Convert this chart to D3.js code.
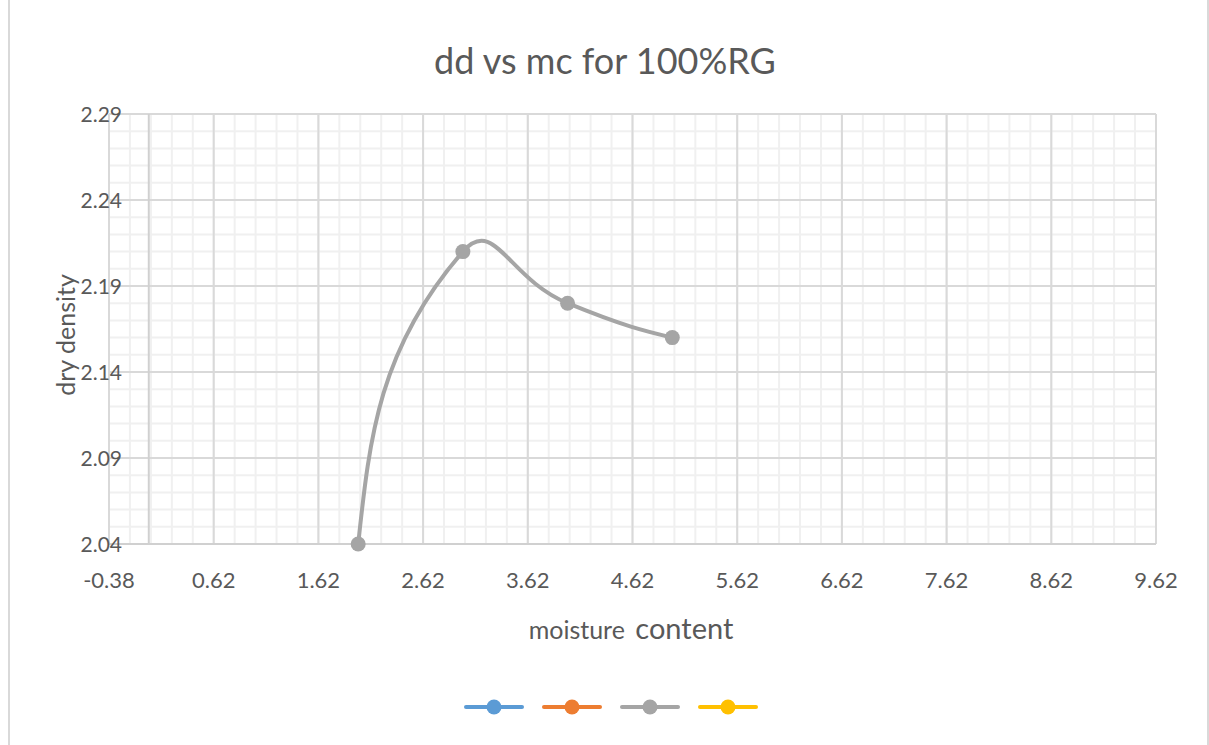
<!DOCTYPE html>
<meta charset="utf-8">
<style>
body { margin: 0; background: #fff; }
text { font-family: Lato, "Open Sans", sans-serif; fill: #595959; }
.minor { stroke: #f0f0f0; stroke-width: 2px; }
.major { stroke: #d9d9d9; stroke-width: 2px; }
.axisline { stroke: #d0d0d0; stroke-width: 2px; }
</style>
<body>
<script src="https://cdn.jsdelivr.net/npm/d3@7/dist/d3.min.js"></script>
<script>
    const width = 1209;
    const height = 745;

    // data
    const moisture = [2.0, 3.0, 4.0, 5.0];
    const dryDensity = [2.04, 2.21, 2.18, 2.16];

    const xTickLabels = ["-0.38", "0.62", "1.62", "2.62", "3.62", "4.62", "5.62", "6.62", "7.62", "8.62", "9.62"];
    const yTickLabels = ["2.04", "2.09", "2.14", "2.19", "2.24", "2.29"];
    const seriesColors = ["#5B9BD5", "#ED7D31", "#A5A5A5", "#FFC000"];

    const xMin = -0.38, xMax = 9.62;
    const yMin = 2.04, yMax = 2.29;

    const x = d3.scaleLinear().domain([xMin, xMax]).range([109, 1156]);
    const y = d3.scaleLinear().domain([yMin, yMax]).range([544, 114]);

    const svg = d3.select("body").append("svg")
        .attr("width", width)
        .attr("height", height);

    svg.append("rect")
        .attr("x", 9).attr("y", -5)
        .attr("width", 1199).attr("height", height + 10)
        .attr("fill", "#fff")
        .attr("stroke", "#d9d9d9")
        .attr("stroke-width", 2);

    // gridlines
    const xMinor = d3.range(0, 51).map(i => +(xMin + i * 0.2).toFixed(2));
    const yMinor = d3.range(0, 26).map(i => +(yMin + i * 0.01).toFixed(2));
    const xMajor = xTickLabels.map(Number);
    const yMajor = yTickLabels.map(Number);

    const grid = svg.append("g");
    grid.selectAll(".vminor").data(xMinor).enter().append("line")
        .attr("class", "minor")
        .attr("x1", d => x(d)).attr("x2", d => x(d))
        .attr("y1", y(yMin)).attr("y2", y(yMax));
    grid.selectAll(".hminor").data(yMinor).enter().append("line")
        .attr("class", "minor")
        .attr("x1", x(xMin)).attr("x2", x(xMax))
        .attr("y1", d => y(d)).attr("y2", d => y(d));
    grid.selectAll(".vmajor").data(xMajor).enter().append("line")
        .attr("class", "major")
        .attr("x1", d => x(d)).attr("x2", d => x(d))
        .attr("y1", y(yMin)).attr("y2", y(yMax));
    grid.selectAll(".hmajor").data(yMajor).enter().append("line")
        .attr("class", "major")
        .attr("x1", x(xMin)).attr("x2", x(xMax))
        .attr("y1", d => y(d)).attr("y2", d => y(d));

    // axis lines (value axis crosses at x = 0)
    grid.append("line").attr("class", "axisline")
        .attr("x1", x(0)).attr("x2", x(0))
        .attr("y1", y(yMin)).attr("y2", y(yMax));
    grid.append("line").attr("class", "axisline")
        .attr("x1", x(xMin)).attr("x2", x(xMax))
        .attr("y1", y(yMin)).attr("y2", y(yMin));

    // tick labels
    svg.selectAll(".xlab").data(xTickLabels).enter().append("text")
        .attr("x", d => x(+d))
        .attr("y", 588)
        .attr("text-anchor", "middle")
        .style("font-size", "22px")
        .text(d => d);

    svg.selectAll(".ylab").data(yTickLabels).enter().append("text")
        .attr("x", 122)
        .attr("y", d => y(+d))
        .attr("dy", "0.36em")
        .attr("text-anchor", "end")
        .style("font-size", "21px")
        .text(d => d);

    // titles
    svg.append("text")
        .attr("x", 605).attr("y", 74)
        .attr("text-anchor", "middle")
        .style("font-size", "36px")
        .text("dd vs mc for 100%RG");

    svg.append("text")
        .attr("transform", "translate(75,335) rotate(-90)")
        .attr("text-anchor", "middle")
        .style("font-size", "25px")
        .text("dry density");

    const xTitle = svg.append("text")
        .attr("x", 631).attr("y", 639)
        .attr("text-anchor", "middle");
    xTitle.append("tspan").style("font-size", "25px").text("moisture ");
    xTitle.append("tspan").style("font-size", "29px").attr("dx", 4).text("content");

    // smoothed line, Excel style bezier
    function excelSmooth(context) {
        let pts;
        const f = 0.55, g = 0.55;
        return {
            areaStart() {}, areaEnd() {},
            lineStart() { pts = []; },
            point(px, py) { pts.push([+px, +py]); },
            lineEnd() {
                const n = pts.length;
                if (!n) return;
                context.moveTo(pts[0][0], pts[0][1]);
                if (n < 3) {
                    for (let i = 1; i < n; i++) context.lineTo(pts[i][0], pts[i][1]);
                    return;
                }
                const cl = [], cr = [];
                for (let i = 1; i < n - 1; i++) {
                    const p0 = pts[i - 1], p1 = pts[i], p2 = pts[i + 1];
                    const tx = p2[0] - p0[0], ty = p2[1] - p0[1];
                    const dPrev = Math.hypot(p1[0] - p0[0], p1[1] - p0[1]);
                    const dNext = Math.hypot(p2[0] - p1[0], p2[1] - p1[1]);
                    const s = dPrev + dNext;
                    cl[i] = [p1[0] - tx * f * dPrev / s, p1[1] - ty * f * dPrev / s];
                    cr[i] = [p1[0] + tx * f * dNext / s, p1[1] + ty * f * dNext / s];
                }
                cr[0] = [pts[0][0] + (cl[1][0] - pts[0][0]) * g, pts[0][1] + (cl[1][1] - pts[0][1]) * g];
                const last = pts[n - 1];
                cl[n - 1] = [last[0] + (cr[n - 2][0] - last[0]) * g, last[1] + (cr[n - 2][1] - last[1]) * g];
                for (let i = 0; i < n - 1; i++) {
                    context.bezierCurveTo(cr[i][0], cr[i][1], cl[i + 1][0], cl[i + 1][1], pts[i + 1][0], pts[i + 1][1]);
                }
            }
        };
    }

    const points = moisture.map((m, i) => ({ m: m, d: dryDensity[i] }));

    const line = d3.line()
        .x(d => x(d.m))
        .y(d => y(d.d))
        .curve(excelSmooth);

    svg.append("path")
        .datum(points)
        .attr("d", line)
        .attr("fill", "none")
        .attr("stroke", seriesColors[2])
        .attr("stroke-width", 4)
        .attr("stroke-linecap", "round");

    svg.selectAll(".pt").data(points).enter().append("circle")
        .attr("cx", d => x(d.m))
        .attr("cy", d => y(d.d))
        .attr("r", 7.5)
        .attr("fill", seriesColors[2]);

    // legend (series have no names)
    const legend = svg.selectAll(".leg").data(seriesColors).enter().append("g")
        .attr("transform", (d, i) => "translate(" + (494 + i * 78) + ",707)");
    legend.append("line")
        .attr("x1", -28).attr("x2", 28)
        .attr("stroke", d => d)
        .attr("stroke-width", 4)
        .attr("stroke-linecap", "round");
    legend.append("circle")
        .attr("r", 7.5)
        .attr("fill", d => d);
</script>
